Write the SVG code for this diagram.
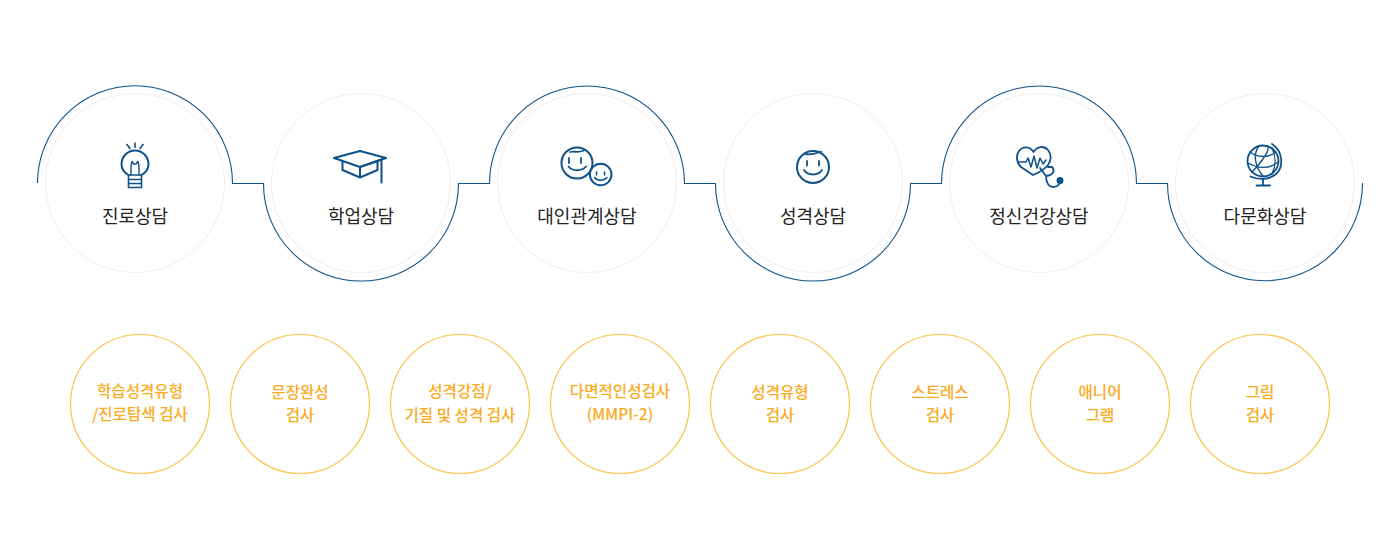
<svg xmlns="http://www.w3.org/2000/svg" width="1400" height="560" viewBox="0 0 1400 560">
<style>
text{font-family:"Noto Sans CJK KR","Noto Sans",sans-serif;text-anchor:middle}
.ring{fill:#fff;stroke:#eeeeee;stroke-width:1}
.title{font-size:18px;fill:#222;font-weight:400}
.sub{fill:#fff;stroke:#fdc044;stroke-width:1.2}
.subt{font-size:15.600px;fill:#fbaa1c;font-weight:500}
.ic{fill:none;stroke:#0f5189;stroke-width:2;stroke-linecap:round;stroke-linejoin:round}
</style>
<rect width="1400" height="560" fill="#fff"/>
<g id="node-1"><circle class="ring" cx="135" cy="183" r="89.5"/>
<g class="ic"><path d="M128.500 175C124 172.500 121.500 168.500 121.500 164A13.500 13.500 0 0 1 148.500 164C148.500 168.500 146 172.500 141.500 175"/><path d="M131 175V166L132 161.500L134 164H136L138 161.500L139 166V175" stroke-width="1.400"/><path d="M128.500 175H141.500V187.500H128.500ZM128.500 179.500H141.500M128.500 183.500H141.500M135 143V147.500M127 144.500L130 148.500M143 144.500L140 148.500" stroke-width="1.600"/></g>
<text class="title" x="135" y="223">진로상담</text></g>
<g id="node-2"><circle class="ring" cx="361" cy="183" r="89.5"/>
<g class="ic"><path d="M334 158L360 151L386 158L360 167Z"/><path d="M342.500 161V170L360 177.500L377.500 170V161M360 167V177.500M360 167L381.500 159.500V182.500"/></g>
<text class="title" x="361" y="223">학업상담</text></g>
<g id="node-3"><circle class="ring" cx="587" cy="183" r="89.5"/>
<g class="ic"><circle cx="577" cy="163" r="15.500"/><circle cx="600.700" cy="174.500" r="10.800"/><path d="M569 158V163M581 158V163M568.500 166.500C572 171.500 582 171.500 586 166.500M570 152C574 151 578 153 584 150.500" stroke-width="1.800"/><path d="M596.500 172V175M604.500 172V175M594.500 177.500C597 181 604 181 607 177.500" stroke-width="1.500"/></g>
<text class="title" x="587" y="223">대인관계상담</text></g>
<g id="node-4"><circle class="ring" cx="813" cy="183" r="89.5"/>
<g class="ic"><circle cx="813" cy="167" r="16"/><path d="M807 161V165.500M819 161V165.500M804 170C808 176 818 176 822 170M805.500 154C810 155 815 154 821 151.500" stroke-width="1.800"/></g>
<text class="title" x="813" y="223">성격상담</text></g>
<g id="node-5"><circle class="ring" cx="1039" cy="183" r="89.5"/>
<g class="ic"><path d="M1033 175L1021 167C1016 162 1016 155 1019 151C1023 146 1030 146 1033.500 152C1037 146 1044 145.500 1048 150C1052 155 1051 161 1048 165C1044 170 1038 173 1033 175Z" stroke-width="1.800"/><path d="M1018 162H1026L1028 158L1031 167L1034 156L1037 168L1040 158L1043 164L1046 160" stroke-width="1.500"/><path d="M1040 168L1046 176C1046 183 1049 187 1053 187C1058 187 1060 184 1060 181M1048 167H1052C1055 170 1054 175 1046 176" stroke-width="1.800"/><circle cx="1060" cy="180.500" r="2.500" fill="#0f5189"/></g>
<text class="title" x="1039" y="223">정신건강상담</text></g>
<g id="node-6"><circle class="ring" cx="1265" cy="183" r="89.500"/>
<g class="ic"><circle cx="1263" cy="161" r="15.500" stroke-width="1.800"/><path d="M1272 144C1283 151 1284 167 1276 174C1269 180 1258 180 1250.500 176.500M1263 179.500V185.500M1256.500 185.500H1270" stroke-width="1.800"/><path d="M1250 152C1258 158 1268 158 1276 152M1248 163C1258 169 1270 169 1278 162M1252 172C1258 166 1270 152 1268 146M1259 146C1252 155 1256 168 1263 176M1272 148C1276 156 1276 166 1272 174" stroke-width="1.400"/></g>
<text class="title" x="1265" y="223">다문화상담</text></g>
<g id="connectors" fill="none" stroke="#0f5189" stroke-width="1.100">
<path d="M37.500 183A97.500 97.500 0 0 1 232.500 183.500H263.500A97.500 97.500 0 0 0 458.500 183.500H489.500A97.500 97.500 0 0 1 684.500 183.500H715.500A97.500 97.500 0 0 0 910.500 183.500H941.500A97.500 97.500 0 0 1 1136.500 183.500H1167.500A97.500 97.500 0 0 0 1362.500 183"/>
</g>
<g id="sub-1"><circle class="sub" cx="140" cy="404" r="69.500"/><text class="subt" x="140" y="397">학습성격유형</text><text class="subt" x="140" y="420">/진로탐색 검사</text></g>
<g id="sub-2"><circle class="sub" cx="300" cy="404" r="69.500"/><text class="subt" x="300" y="398">문장완성</text><text class="subt" x="300" y="421">검사</text></g>
<g id="sub-3"><circle class="sub" cx="460" cy="404" r="69.500"/><text class="subt" x="460" y="397">성격강점/</text><text class="subt" x="460" y="421">기질 및 성격 검사</text></g>
<g id="sub-4"><circle class="sub" cx="620" cy="404" r="69.500"/><text class="subt" x="620" y="397">다면적인성검사</text><text class="subt" x="620" y="420">(MMPI-2)</text></g>
<g id="sub-5"><circle class="sub" cx="780" cy="404" r="69.500"/><text class="subt" x="780" y="398">성격유형</text><text class="subt" x="780" y="421">검사</text></g>
<g id="sub-6"><circle class="sub" cx="940" cy="404" r="69.500"/><text class="subt" x="940" y="398">스트레스</text><text class="subt" x="940" y="421">검사</text></g>
<g id="sub-7"><circle class="sub" cx="1100" cy="404" r="69.500"/><text class="subt" x="1100" y="398">애니어</text><text class="subt" x="1100" y="421">그램</text></g>
<g id="sub-8"><circle class="sub" cx="1260" cy="404" r="69.500"/><text class="subt" x="1260" y="398">그림</text><text class="subt" x="1260" y="421">검사</text></g>
</svg>
